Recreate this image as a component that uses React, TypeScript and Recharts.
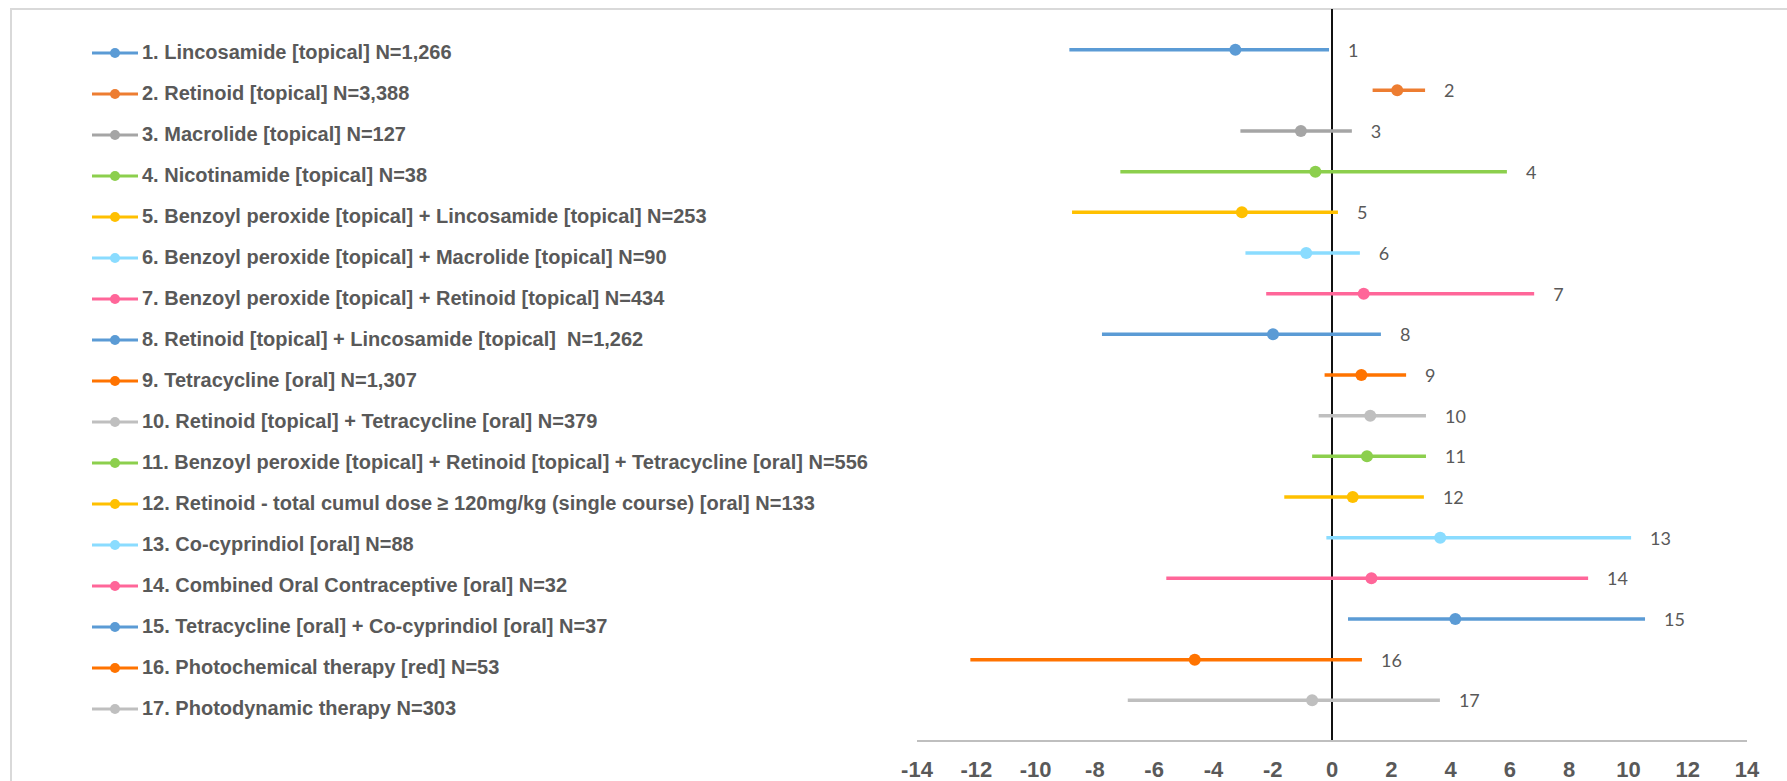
import { ScatterChart, Scatter, XAxis, YAxis, ReferenceLine } from 'recharts';

// forest plot: one row per treatment, line = interval, dot = estimate

const labels = [
  '1. Lincosamide [topical] N=1,266',
  '2. Retinoid [topical] N=3,388',
  '3. Macrolide [topical] N=127',
  '4. Nicotinamide [topical] N=38',
  '5. Benzoyl peroxide [topical] + Lincosamide [topical] N=253',
  '6. Benzoyl peroxide [topical] + Macrolide [topical] N=90',
  '7. Benzoyl peroxide [topical] + Retinoid [topical] N=434',
  '8. Retinoid [topical] + Lincosamide [topical]  N=1,262',
  '9. Tetracycline [oral] N=1,307',
  '10. Retinoid [topical] + Tetracycline [oral] N=379',
  '11. Benzoyl peroxide [topical] + Retinoid [topical] + Tetracycline [oral] N=556',
  '12. Retinoid - total cumul dose \u2265 120mg/kg (single course) [oral] N=133',
  '13. Co-cyprindiol [oral] N=88',
  '14. Combined Oral Contraceptive [oral] N=32',
  '15. Tetracycline [oral] + Co-cyprindiol [oral] N=37',
  '16. Photochemical therapy [red] N=53',
  '17. Photodynamic therapy N=303',
];

const lower = [-8.86, 1.37, -3.09, -7.14, -8.77, -2.92, -2.22, -7.76, -0.25, -0.45, -0.67, -1.61, -0.19, -5.59, 0.54, -12.2, -6.89];
const estimate = [-3.26, 2.2, -1.05, -0.56, -3.04, -0.87, 1.07, -1.99, 0.99, 1.29, 1.18, 0.7, 3.65, 1.33, 4.16, -4.63, -0.67];
const upper = [-0.1, 3.14, 0.67, 5.9, 0.2, 0.94, 6.82, 1.65, 2.5, 3.17, 3.17, 3.1, 10.09, 8.64, 10.56, 1.01, 3.64];
const rowNumbers = ['1', '2', '3', '4', '5', '6', '7', '8', '9', '10', '11', '12', '13', '14', '15', '16', '17'];

const xTicks = [-14, -12, -10, -8, -6, -4, -2, 0, 2, 4, 6, 8, 10, 12, 14];

const colors = [
  '#5B9BD5', '#ED7D31', '#A5A5A5', '#8CCF4D', '#FFC000', '#8ADCFF', '#FF6699', '#5B9BD5', '#FF7300',
  '#BFBFBF', '#8CCF4D', '#FFC000', '#8ADCFF', '#FF6699', '#5B9BD5', '#FF7300', '#BFBFBF',
];

const rows = labels.map((name, i) => ({
  name,
  row: i + 1,
  color: colors[i],
  segment: [
    { x: lower[i], y: i + 1 },
    { x: upper[i], y: i + 1 },
  ],
}));

const estimatePoints = rows.map((r, i) => ({ x: estimate[i], y: r.row, color: r.color }));
const labelPoints = rows.map((r, i) => ({ x: upper[i], y: r.row, text: rowNumbers[i] }));

const Empty = () => <g />;

const Dot = (p: any) => <circle cx={p.cx} cy={p.cy} r={6} fill={p.payload.color} />;

const RowLabel = (p: any) => (
  <text
    x={p.cx + 19}
    y={p.cy}
    dominantBaseline="central"
    fontFamily="Lato, 'Liberation Sans', sans-serif"
    fontSize={18}
    fill="#595959"
  >
    {p.payload.text}
  </text>
);

const LegendBlock = () => (
  <div style={{ position: 'absolute', left: 92, top: 32 }}>
    {rows.map((r) => (
      <div key={r.row} style={{ height: 41, display: 'flex', alignItems: 'center' }}>
        <svg width={46} height={14} style={{ marginRight: 4 }}>
          <line x1={0} y1={7} x2={46} y2={7} stroke={r.color} strokeWidth={3} />
          <circle cx={23} cy={7} r={5} fill={r.color} />
        </svg>
        <span
          style={{
            fontFamily: "'Liberation Sans', Arial, sans-serif",
            fontWeight: 700,
            fontSize: 20,
            color: '#595959',
            whiteSpace: 'pre',
          }}
        >
          {r.name}
        </span>
      </div>
    ))}
  </div>
);

const App = () => {
  return (
    <div style={{ position: 'absolute', left: 0, top: 0, width: 1787, height: 781, background: '#fff', overflow: 'hidden' }}>
      <div
        style={{
          position: 'absolute',
          left: 10,
          top: 8,
          width: 1800,
          height: 800,
          borderTop: '2px solid #D9D9D9',
          borderLeft: '2px solid #D9D9D9',
        }}
      />
      <ScatterChart width={1787} height={781} margin={{ top: 9, right: 40, left: 917, bottom: 0 }}>
        <XAxis
          type="number"
          dataKey="x"
          domain={[-14, 14]}
          ticks={xTicks}
          allowDataOverflow
          height={40}
          axisLine={{ stroke: '#BFBFBF', strokeWidth: 2 }}
          tickLine={false}
          tickSize={8}
          tickMargin={12}
          tick={{ fill: '#595959', fontSize: 22, fontWeight: 700, fontFamily: "'Liberation Sans', Arial, sans-serif" }}
        />
        <YAxis type="number" dataKey="y" domain={[0, 18]} reversed hide />
        {rows.map((r) => (
          <Scatter
            key={r.row}
            data={r.segment}
            fill={r.color}
            line={{ stroke: r.color, strokeWidth: 3.5 }}
            shape={Empty}
            isAnimationActive={false}
          />
        ))}
        <ReferenceLine x={0} stroke="#111" strokeWidth={2} />
        <Scatter data={estimatePoints} shape={Dot} isAnimationActive={false} />
        <Scatter data={labelPoints} shape={RowLabel} isAnimationActive={false} />
      </ScatterChart>
      <LegendBlock />
    </div>
  );
};

export default App;
